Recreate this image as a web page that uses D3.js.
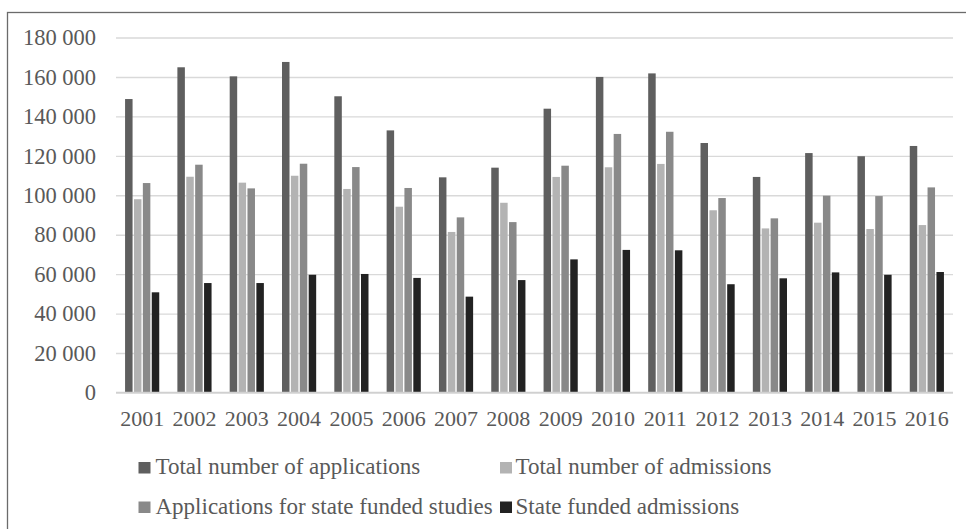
<!DOCTYPE html>
<html>
<head>
<meta charset="utf-8">
<script src="https://cdn.jsdelivr.net/npm/d3@7"></script>
<style>
  html, body { margin: 0; padding: 0; background: #fff; }
  svg { display: block; }
</style>
</head>
<body>
<svg id="chart" width="966" height="529"></svg>
<script>
const years = ["2001","2002","2003","2004","2005","2006","2007","2008","2009","2010","2011","2012","2013","2014","2015","2016"];
const seriesNames = ["Total number of applications","Total number of admissions","Applications for state funded studies","State funded admissions"];
const seriesColors = ["#5f5f5f","#b3b3b3","#898989","#222222"];
const totalApplications = [148800,164900,160300,167600,150200,132900,109100,114000,143900,160000,161800,126500,109300,121400,119800,125000];
const totalAdmissions   = [98000,109400,106400,109900,103200,94200,81400,96200,109300,114200,115900,92400,83200,86100,82900,84900];
const stateApplications = [106200,115500,103500,116000,114300,103700,88800,86400,115000,131100,132200,98600,88300,99800,99600,104000];
const stateAdmissions   = [50800,55500,55500,59700,60100,58100,48600,57000,67500,72300,72100,54900,57900,60900,59700,61100];
const yTicks = [0,20000,40000,60000,80000,100000,120000,140000,160000,180000];

const series = [totalApplications, totalAdmissions, stateApplications, stateAdmissions];

(function draw() {
const svg = d3.select("#chart");
const font = "'Liberation Serif', 'Times New Roman', serif";
const textColor = "#595959";

// frame
svg.append("rect").attr("x", 7.5).attr("y", 12.5).attr("width", 970).attr("height", 530)
  .attr("fill", "none").attr("stroke", "#6b6b6b").attr("stroke-width", 1.3);

const pLeft = 116, pRight = 953, pTop = 37.5, pBottom = 392.5;

const x0 = d3.scaleBand().domain(years).range([pLeft, pRight]).paddingInner(0.32).paddingOuter(0.16);
const x1 = d3.scaleBand().domain(d3.range(series.length)).range([0, x0.bandwidth()]);
const y = d3.scaleLinear().domain([0, 180000]).range([pBottom, pTop]);

const fmt = v => d3.format(",")(v).replace(/,/g, " ");

// gridlines
const yAxis = d3.axisLeft(y).tickValues(yTicks).tickSize(-(pRight - pLeft)).tickFormat(fmt).tickPadding(20);
const gy = svg.append("g").attr("transform", `translate(${pLeft},0)`).call(yAxis);
gy.select(".domain").remove();
gy.selectAll(".tick line").attr("stroke", "#d9d9d9").attr("stroke-width", 1.4);
gy.selectAll(".tick text").attr("fill", textColor).style("font-family", font).style("font-size", "22.5px");

// bars
const groups = svg.append("g").selectAll("g").data(years).join("g")
  .attr("transform", d => `translate(${x0(d)},0)`);
groups.selectAll("rect").data((d, i) => series.map((s, k) => ({k, v: s[i]}))).join("rect")
  .attr("x", d => x1(d.k) + 0.7)
  .attr("width", x1.bandwidth() - 1.4)
  .attr("y", d => y(d.v))
  .attr("height", d => y(0) - y(d.v))
  .attr("fill", d => seriesColors[d.k]);

// x axis
const xAxis = d3.axisBottom(x0).tickSize(0).tickPadding(18);
const gx = svg.append("g").attr("transform", `translate(0,${pBottom})`).call(xAxis);
gx.select(".domain").attr("stroke", "#d0d0d0").attr("stroke-width", 1.5)
  .attr("d", `M${pLeft},0H${pRight}`);
gx.selectAll(".tick text").attr("fill", textColor).style("font-family", font).style("font-size", "22px");

// legend
const legendPos = [[138.5, 474], [500, 474], [138.5, 513.5], [500, 513.5]];
const textOffset = [17, 15.5, 17, 15.5];
const lg = svg.append("g").selectAll("g").data(seriesNames).join("g")
  .attr("transform", (d, i) => `translate(${legendPos[i][0]},${legendPos[i][1]})`);
lg.append("rect").attr("x", 0).attr("y", -12).attr("width", 12).attr("height", 11.5)
  .attr("fill", (d, i) => seriesColors[i]);
lg.append("text").attr("x", (d, i) => textOffset[i]).attr("y", 0).text(d => d)
  .attr("fill", textColor).style("font-family", font).style("font-size", "23px");
})();
</script>
</body>
</html>
